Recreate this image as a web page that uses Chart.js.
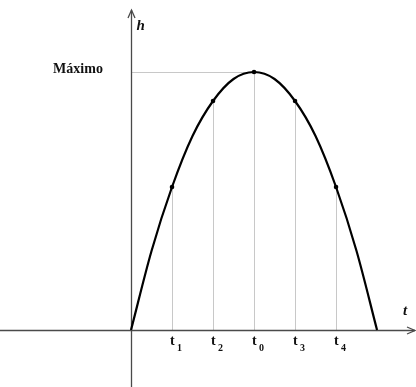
<!DOCTYPE html>
<html>
<head>
<meta charset="utf-8">
<script src="https://cdn.jsdelivr.net/npm/chart.js@4.4.1/dist/chart.umd.min.js"></script>
<style>
  html, body { margin: 0; padding: 0; background: #fff; overflow: hidden; }
  #wrap { width: 416px; height: 387px; position: relative; }
</style>
</head>
<body>
<div id="wrap"><canvas id="chart"></canvas></div>
<script>
// Curve (time in tick steps, height in px-like units)
const curveT = [0, 0.5, 1, 1.5, 2, 2.5, 3, 3.5, 4, 4.5, 5, 5.5, 6];
const curveH = [0, 79, 143, 194, 229, 251, 258, 251, 229, 194, 143, 79, 0];

// Marked points and their tick labels
const markT = [1, 2, 3, 4, 5];
const markH = [143, 229, 258, 229, 143];
const tickMain = ['t', 't', 't', 't', 't'];
const tickSub = ['1', '2', '0', '3', '4'];

const maxLabel = 'Máximo';
const xAxisLabel = 't';
const yAxisLabel = 'h';

const X_MIN = -3.195, X_MAX = 6.95;
const Y_MIN = -57, Y_MAX = 330;

const toPoints = function(xs, ys) {
    return xs.map(function(x, i) { return { x: x, y: ys[i] }; });
};

// Axes, guide lines and text drawn with the chart's own scales
const decor = {
    id: 'decor',
    beforeDatasetsDraw: function(chart) {
        const ctx = chart.ctx;
        const xs = chart.scales.x, ys = chart.scales.y;
        const x0 = Math.round(xs.getPixelForValue(0)) + 0.5;
        const y0 = Math.round(ys.getPixelForValue(0)) + 0.5;
        ctx.save();

        // guide lines
        ctx.strokeStyle = '#c8c8c8';
        ctx.lineWidth = 1;
        markT.forEach(function(t, i) {
            const px = Math.round(xs.getPixelForValue(t)) + 0.5;
            ctx.beginPath();
            ctx.moveTo(px, ys.getPixelForValue(markH[i]));
            ctx.lineTo(px, y0);
            ctx.stroke();
        });
        const peak = Math.max.apply(null, markH);
        const peakT = markT[markH.indexOf(peak)];
        const py = Math.round(ys.getPixelForValue(peak)) + 0.5;
        ctx.beginPath();
        ctx.moveTo(x0, py);
        ctx.lineTo(xs.getPixelForValue(peakT), py);
        ctx.stroke();

        // axes
        ctx.strokeStyle = '#4a4a4a';
        ctx.lineWidth = 1.3;
        ctx.beginPath();
        ctx.moveTo(chart.chartArea.left, y0);
        ctx.lineTo(chart.chartArea.right - 1, y0);
        ctx.moveTo(x0, chart.chartArea.bottom);
        ctx.lineTo(x0, chart.chartArea.top + 10);
        ctx.stroke();
        // arrow heads
        ctx.beginPath();
        ctx.moveTo(x0 - 3.5, chart.chartArea.top + 18);
        ctx.lineTo(x0, chart.chartArea.top + 10);
        ctx.lineTo(x0 + 3.5, chart.chartArea.top + 18);
        const xr = chart.chartArea.right - 1;
        ctx.moveTo(xr - 8, y0 - 3.5);
        ctx.lineTo(xr, y0);
        ctx.lineTo(xr - 8, y0 + 3.5);
        ctx.stroke();

        // text
        ctx.fillStyle = '#111';
        ctx.textBaseline = 'alphabetic';
        ctx.font = 'italic bold 15px "Liberation Serif", serif';
        ctx.textAlign = 'left';
        ctx.fillText(yAxisLabel, x0 + 5, 30);
        ctx.fillText(xAxisLabel, 403, 315);

        ctx.font = 'bold 14px "Liberation Serif", serif';
        ctx.textAlign = 'center';
        ctx.fillText(maxLabel, 78, py);

        markT.forEach(function(t, i) {
            const px = xs.getPixelForValue(t);
            ctx.textAlign = 'left';
            ctx.font = 'bold 14px "Liberation Serif", serif';
            ctx.fillText(tickMain[i], px - 2, y0 + 14);
            ctx.font = 'bold 10px "Liberation Serif", serif';
            ctx.fillText(tickSub[i], px + 5, y0 + 20);
        });
        ctx.restore();
    }
};

new Chart(document.getElementById('chart'), {
    type: 'scatter',
    data: {
        datasets: [{
            data: toPoints(curveT, curveH),
            showLine: true,
            borderColor: '#000',
            borderWidth: 2.2,
            pointRadius: 0,
            cubicInterpolationMode: 'monotone'
        }, {
            data: toPoints(markT, markH),
            showLine: false,
            pointRadius: 2.3,
            pointBackgroundColor: '#000',
            pointBorderWidth: 0
        }]
    },
    options: {
        responsive: true,
        maintainAspectRatio: false,
        animation: false,
        layout: { padding: 0, autoPadding: false },
        plugins: { legend: { display: false }, tooltip: { enabled: false } },
        scales: {
            x: { type: 'linear', min: X_MIN, max: X_MAX, display: false },
            y: { type: 'linear', min: Y_MIN, max: Y_MAX, display: false }
        }
    },
    plugins: [decor]
});
</script>
</body>
</html>
